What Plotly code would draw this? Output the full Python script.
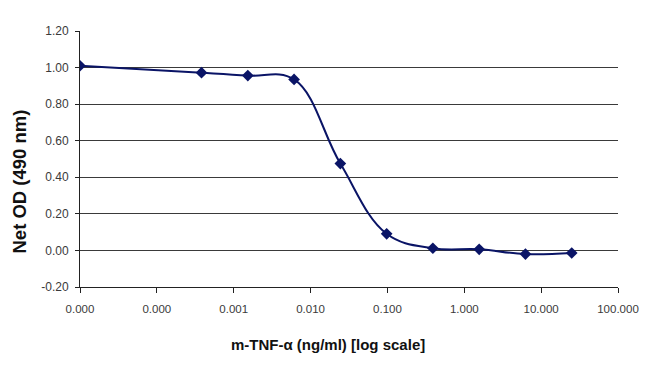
import plotly.graph_objects as go

# Concentration of m-TNF-alpha (ng/ml); the zero-dose point is drawn at the axis start
conc = [0.00001, 0.000381, 0.001526, 0.0061, 0.0244, 0.0977, 0.39, 1.5625, 6.25, 25.0]
net_od = [1.01, 0.972, 0.956, 0.935, 0.475, 0.091, 0.012, 0.006, -0.020, -0.014]

x_tickvals = [0.00001, 0.0001, 0.001, 0.01, 0.1, 1, 10, 100]
x_ticktext = ["0.000", "0.000", "0.001", "0.010", "0.100", "1.000", "10.000", "100.000"]

y_tickvals = [-0.2, 0.0, 0.2, 0.4, 0.6, 0.8, 1.0, 1.2]
y_ticktext = ["-0.20", "0.00", "0.20", "0.40", "0.60", "0.80", "1.00", "1.20"]

x_title = "m-TNF-α (ng/ml) [log scale]"
y_title = "Net OD (490 nm)"

navy = "#0a1466"

fig = go.Figure()
fig.add_trace(go.Scatter(
    x=conc, y=net_od, mode="lines+markers",
    line=dict(color=navy, width=2, shape="spline", smoothing=1.1),
    marker=dict(symbol="diamond", size=9, color=navy),
    showlegend=False, hoverinfo="x+y",
))

fig.update_layout(
    width=650, height=369,
    margin=dict(l=80, r=32, t=31, b=82),
    paper_bgcolor="white", plot_bgcolor="white",
    font=dict(family="Liberation Sans, Arial, sans-serif", color="#333333"),
    xaxis=dict(
        type="log", range=[-5, 2],
        tickvals=x_tickvals, ticktext=x_ticktext,
        showgrid=False, zeroline=False,
        showline=True, linecolor="#222222", linewidth=1,
        ticks="outside", ticklen=5, tickcolor="#222222", tickwidth=1,
        tickfont=dict(size=11.5, color="#3a3a3a"),
        ticklabelstandoff=6,
    ),
    yaxis=dict(
        range=[-0.2, 1.2],
        tickvals=y_tickvals, ticktext=y_ticktext,
        showgrid=True, gridcolor="#3a3a3a", gridwidth=1.3,
        zeroline=False,
        showline=True, linecolor="#222222", linewidth=1,
        ticks="outside", ticklen=4, tickcolor="#222222", tickwidth=1,
        tickfont=dict(size=12, color="#3a3a3a"),
        ticklabelstandoff=4,
    ),
    annotations=[
        dict(text="<b>" + x_title + "</b>", xref="paper", yref="paper",
             x=0.461, y=-0.225, xanchor="center", yanchor="middle",
             showarrow=False, font=dict(size=15, color="#111111")),
        dict(text="<b>" + y_title + "</b>", xref="paper", yref="paper",
             x=-0.1125, y=0.414, xanchor="center", yanchor="middle",
             textangle=-90, showarrow=False, font=dict(size=18.5, color="#111111")),
    ],
)

fig.write_html("out.html", config={"displayModeBar": False},
               post_script="document.body.style.margin='0';document.body.style.padding='0';")
